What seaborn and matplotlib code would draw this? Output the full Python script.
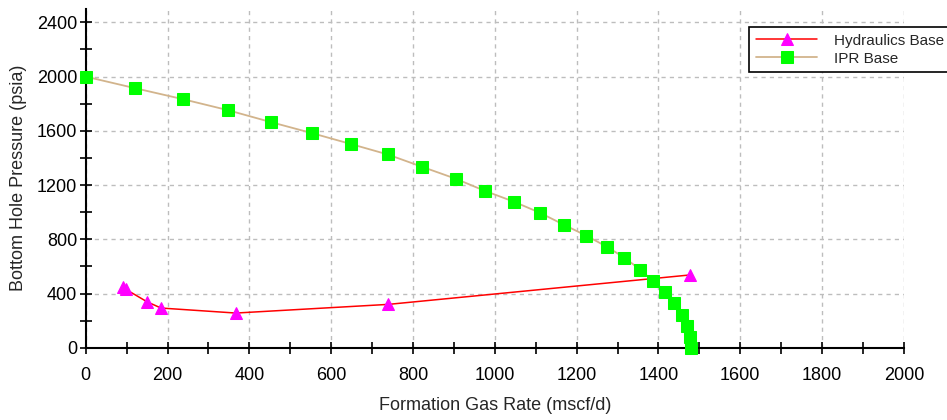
import matplotlib
matplotlib.use("Agg")
import matplotlib.pyplot as plt
import seaborn as sns
import pandas as pd
from matplotlib.ticker import MultipleLocator

# ---- data ----
ipr_rate = [0, 120, 237, 347, 452, 552, 648, 738, 822, 905, 975, 1047, 1110,
            1169, 1224, 1274, 1317, 1356, 1386, 1417, 1438, 1457, 1469, 1477, 1479]
ipr_pressure = [2000, 1915, 1834, 1753, 1665, 1584, 1503, 1426, 1335, 1246, 1158,
                1077, 996, 907, 826, 745, 664, 575, 494, 413, 332, 243, 160, 79, 0]

hyd_rate = [92, 98, 150, 184, 367, 740, 1477]
hyd_pressure = [450, 431, 339, 293, 256, 320, 537]

x_ticks = [0, 200, 400, 600, 800, 1000, 1200, 1400, 1600, 1800, 2000]
y_ticks = [0, 400, 800, 1200, 1600, 2000, 2400]

x_label = "Formation Gas Rate (mscf/d)"
y_label = "Bottom Hole Pressure (psia)"
series_names = ["Hydraulics Base", "IPR Base"]

sns.set_style("white")
plt.rcParams["font.family"] = ["Liberation Sans", "DejaVu Sans"]

fig = plt.figure(figsize=(9.47, 4.2), dpi=100)
ax = fig.add_axes([0.0905, 0.172, 0.864, 0.807])

hyd_df = pd.DataFrame({"rate": hyd_rate, "p": hyd_pressure})
ipr_df = pd.DataFrame({"rate": ipr_rate, "p": ipr_pressure})

sns.lineplot(data=hyd_df, x="rate", y="p", sort=False, ax=ax, color="#ff0000",
             linewidth=1.1, marker="^", markersize=9, markerfacecolor="#ff00ff",
             markeredgecolor="#ff00ff", label=series_names[0], zorder=3,
             clip_on=False)
sns.lineplot(data=ipr_df, x="rate", y="p", sort=False, ax=ax, color="#d2b48c",
             linewidth=1.3, marker="s", markersize=8, markerfacecolor="#00ff00",
             markeredgecolor="#00ff00", label=series_names[1], zorder=3,
             clip_on=False)

ax.set_xlim(0, 2000)
ax.set_ylim(0, 2500)
ax.set_xticks(x_ticks)
ax.set_yticks(y_ticks)
ax.xaxis.set_minor_locator(MultipleLocator(100))
ax.yaxis.set_minor_locator(MultipleLocator(200))
ax.tick_params(which="both", bottom=True, left=True, direction="inout", length=8,
               width=1.2, color="black", labelsize=13, labelcolor="black")
ax.tick_params(axis="x", pad=10)
ax.tick_params(axis="y", pad=2)

ax.grid(True, which="major", linestyle=(0, (3, 3)), color="#bdbdbd", linewidth=1)
ax.set_axisbelow(True)

for s in ["top", "right"]:
    ax.spines[s].set_visible(False)
for s in ["left", "bottom"]:
    ax.spines[s].set_color("black")
    ax.spines[s].set_linewidth(1.5)

ax.set_xlabel(x_label, fontsize=13, labelpad=9)
ax.set_ylabel(y_label, fontsize=13, labelpad=7)

leg = ax.legend(loc="upper left", bbox_to_anchor=(0.791, 0.936),
                bbox_transform=fig.transFigure, fontsize=11, frameon=True,
                fancybox=False, edgecolor="black", framealpha=1,
                handlelength=4.0, handletextpad=1.1, borderpad=0.45,
                labelspacing=0.25, borderaxespad=0)
leg.get_frame().set_linewidth(1.2)

fig.savefig("out.png", dpi=100)
